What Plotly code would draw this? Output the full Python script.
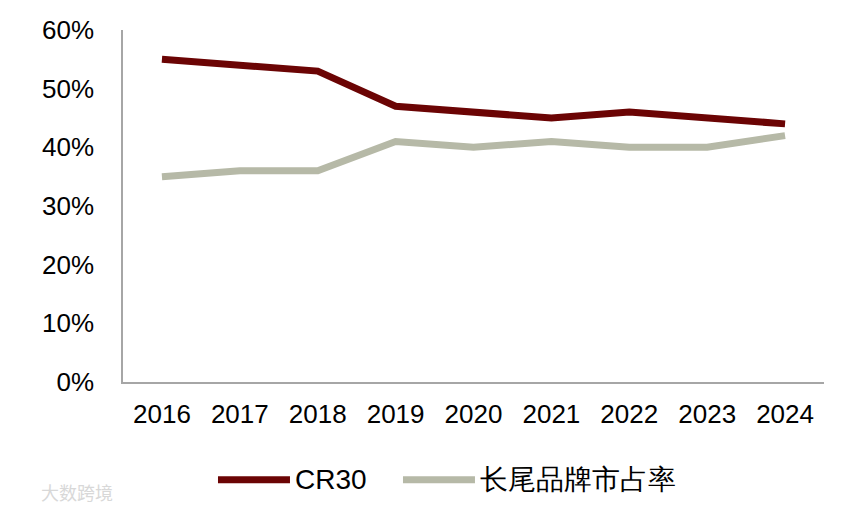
import plotly.graph_objects as go

years = ['2016', '2017', '2018', '2019', '2020', '2021', '2022', '2023', '2024']
cr30 = [55, 54, 53, 47, 46, 45, 46, 45, 44]
long_tail = [35, 36, 36, 41, 40, 41, 40, 40, 42]
y_ticks = [0, 10, 20, 30, 40, 50, 60]
y_labels = [f'{v}%' for v in y_ticks]
series_names = ['CR30', '长尾品牌市占率']

FONT = 'Liberation Sans, Arial, sans-serif'
C_CR30 = '#6b0404'
C_TAIL = '#b6b9a7'

fig = go.Figure()
fig.add_trace(go.Scatter(x=years, y=cr30, mode='lines', name=series_names[0],
                         line=dict(color=C_CR30, width=7)))
fig.add_trace(go.Scatter(x=years, y=long_tail, mode='lines', name=series_names[1],
                         line=dict(color=C_TAIL, width=7)))

# page body has an 8px margin, so the figure sits 8px right/down
fig.update_layout(
    width=868, height=511,
    margin=dict(l=115, r=52, t=22, b=137),
    paper_bgcolor='white', plot_bgcolor='white',
    font=dict(family=FONT, color='black', size=26),
    showlegend=False,
)
fig.update_xaxes(
    type='category', range=[-0.5, 8.5], automargin=False,
    showline=True, linecolor='#a6a6a6', linewidth=1.5,
    showgrid=False, ticks='', ticklabelstandoff=8,
    tickfont=dict(size=26),
)
fig.update_yaxes(
    range=[0, 60], tickvals=y_ticks, ticktext=y_labels, automargin=False,
    showline=True, linecolor='#a6a6a6', linewidth=1.5,
    showgrid=False, zeroline=False, ticks='', ticklabelstandoff=22,
    tickfont=dict(size=26),
)

# legend drawn by hand so the swatches can be as long as the original's
leg_y = -0.278
for name, color, x0, x1 in [(series_names[0], C_CR30, 0.1355, 0.2382),
                            (series_names[1], C_TAIL, 0.3994, 0.5021)]:
    fig.add_shape(type='line', xref='paper', yref='paper', x0=x0, x1=x1,
                  y0=leg_y, y1=leg_y, line=dict(color=color, width=7))
    fig.add_annotation(text=name, xref='paper', yref='paper', x=x1 + 0.004, y=leg_y,
                       xanchor='left', yanchor='middle', showarrow=False,
                       font=dict(size=28, family=FONT, color='black'))

fig.add_annotation(text='大数跨境', xref='paper', yref='paper', x=-0.12, y=-0.312,
                   xanchor='left', yanchor='middle', showarrow=False,
                   font=dict(size=18, color='#d8d8d8', family='Noto Sans CJK SC'))

fig.write_html('out.html')
